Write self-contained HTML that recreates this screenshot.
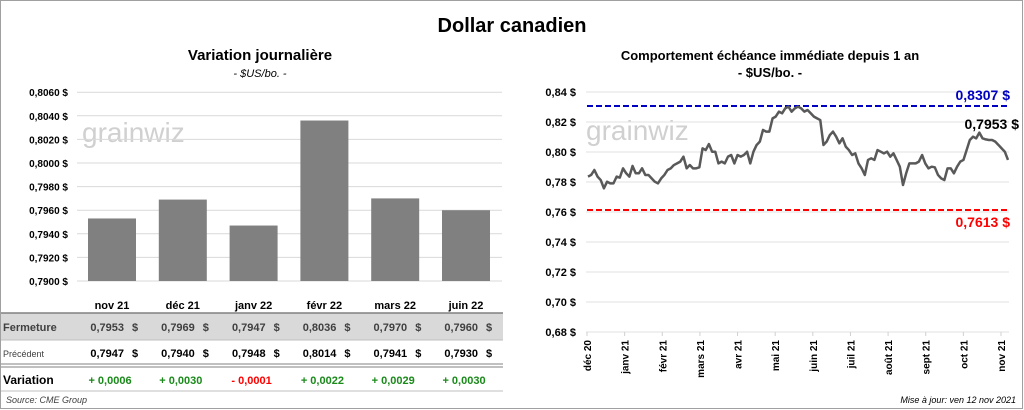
<!DOCTYPE html>
<html><head><meta charset="utf-8">
<style>
body{margin:0;width:1024px;height:410px;background:#fff;overflow:hidden;font-family:"Liberation Sans",sans-serif;}
svg{display:block}
</style></head>
<body>
<svg id="svg" width="1024" height="410" viewBox="0 0 1024 410" xmlns="http://www.w3.org/2000/svg" font-family="Liberation Sans, sans-serif">
<rect x="0.5" y="0.5" width="1022" height="408" fill="#fff" stroke="#a0a0a0"/>
<text x="512" y="32" text-anchor="middle" font-size="20" font-weight="bold" fill="#000">Dollar canadien</text>
<text x="260" y="60" text-anchor="middle" font-size="15" font-weight="bold">Variation  journalière</text>
<text x="260" y="77" text-anchor="middle" font-size="11" font-style="italic">- $US/bo. -</text>
<text x="770" y="60" text-anchor="middle" font-size="13" font-weight="bold">Comportement échéance immédiate depuis 1 an</text>
<text x="770" y="77" text-anchor="middle" font-size="13" font-weight="bold">- $US/bo. -</text>
<text x="82" y="142" font-size="28" fill="#d0d0d0">grainwiz</text>
<text x="586" y="140" font-size="28" fill="#d0d0d0">grainwiz</text>
<g id="bars"></g><g id="line"></g><g id="table"></g>
<text x="6" y="403" font-size="9" font-style="italic" fill="#404040">Source: CME Group</text>
<text x="1016" y="403" text-anchor="end" font-size="9" font-style="italic" fill="#000">Mise à jour: ven 12 nov 2021</text>
</svg>
<script>
const NS="http://www.w3.org/2000/svg";
const barCats=["nov 21","déc 21","janv 22","févr 22","mars 22","juin 22"];
const barVals=[0.7953,0.7969,0.7947,0.8036,0.7970,0.7960];
const barTicks=[0.7900,0.7920,0.7940,0.7960,0.7980,0.8000,0.8020,0.8040,0.8060];
const closeVals=["0,7953","0,7969","0,7947","0,8036","0,7970","0,7960"];
const prevVals=["0,7947","0,7940","0,7948","0,8014","0,7941","0,7930"];
const varVals=["+ 0,0006","+ 0,0030","- 0,0001","+ 0,0022","+ 0,0029","+ 0,0030"];
const lineVals=[0.7836,0.7847,0.7880,0.7836,0.7813,0.7758,0.7802,0.7791,0.7791,0.7836,0.7829,0.7891,0.7858,0.7836,0.7907,0.7858,0.7858,0.7891,0.7847,0.7847,0.7824,0.7802,0.7791,0.7824,0.7847,0.7880,0.7891,0.7913,0.7924,0.7936,0.7969,0.7891,0.7913,0.7891,0.7891,0.7898,0.8024,0.8013,0.8053,0.8002,0.8002,0.7924,0.7936,0.7924,0.7969,0.7980,0.7924,0.7980,0.7969,0.7980,0.8002,0.7924,0.8002,0.8047,0.8069,0.8147,0.8136,0.8136,0.8224,0.8236,0.8269,0.8258,0.8291,0.8302,0.8269,0.8291,0.8302,0.8291,0.8269,0.8280,0.8258,0.8236,0.8224,0.8213,0.8047,0.8069,0.8113,0.8136,0.8102,0.8058,0.8091,0.8036,0.8013,0.7980,0.7991,0.7924,0.7891,0.7847,0.7947,0.7958,0.7947,0.8013,0.8002,0.7991,0.8002,0.7969,0.7991,0.7947,0.7902,0.7780,0.7858,0.7924,0.7924,0.7924,0.7936,0.7980,0.7924,0.7891,0.7902,0.7898,0.7847,0.7824,0.7813,0.7891,0.7891,0.7858,0.7902,0.7936,0.7947,0.8013,0.8080,0.8102,0.8091,0.8129,0.8091,0.8084,0.8080,0.8080,0.8069,0.8047,0.8024,0.8002,0.7947];
const lineTicks=[0.68,0.70,0.72,0.74,0.76,0.78,0.80,0.82,0.84];
const months=["déc 20","janv 21","févr 21","mars 21","avr 21","mai 21","juin 21","juil 21","août 21","sept 21","oct 21","nov 21"];
const maxVal=0.8307, minVal=0.7613, lastVal="0,7953 $";

function mk(tag,attrs,parent,text){const e=document.createElementNS(NS,tag);for(const k in attrs)e.setAttribute(k,attrs[k]);if(text!==undefined)e.textContent=text;parent.appendChild(e);return e;}
const fmt=(v,d)=>v.toFixed(d).replace('.',',');

// bar chart
const bg=document.getElementById('bars');
const by=v=>281-(v-0.79)/0.002*23.6;
const bx=i=>112+i*70.8;
barTicks.forEach(t=>{
 const l=mk('line',{x1:77,x2:502,y1:by(t),y2:by(t),stroke:'#d9d9d9','stroke-width':1},bg);
 
 const tx=mk('text',{x:68,y:by(t)+4,'text-anchor':'end','font-size':10,'font-weight':'bold'},bg,fmt(t,4)+' $');
 
});
barVals.forEach((v,i)=>{
 const r=mk('rect',{x:bx(i)-24,y:by(v),width:48,height:by(0.79)-by(v),fill:'#808080'},bg);
 
});

// table
const tg=document.getElementById('table');
mk('rect',{x:1,y:313,width:502,height:27,fill:'#d9d9d9'},tg);
mk('line',{x1:1,x2:503,y1:313,y2:313,stroke:'#808080','stroke-width':1.5},tg);
mk('line',{x1:1,x2:503,y1:340,y2:340,stroke:'#bfbfbf'},tg);
mk('line',{x1:1,x2:503,y1:364,y2:364,stroke:'#808080'},tg);
mk('line',{x1:1,x2:503,y1:367,y2:367,stroke:'#808080'},tg);
mk('line',{x1:1,x2:503,y1:391,y2:391,stroke:'#bfbfbf'},tg);
const rl1=mk('text',{x:3,y:331,'font-size':11,'font-weight':'bold',fill:'#404040'},tg,'Fermeture');

const rl2=mk('text',{x:3,y:357,'font-size':9,fill:'#404040'},tg,'Précédent');

const rl3=mk('text',{x:3,y:384,'font-size':12,'font-weight':'bold'},tg,'Variation');

barCats.forEach((c,i)=>{
 const x=bx(i);
 const h=mk('text',{x:x,y:309,'text-anchor':'middle','font-size':11,'font-weight':'bold'},tg,c);
 
 const a=mk('text',{x:x+12,y:331,'text-anchor':'end','font-size':11,'font-weight':'bold',fill:'#404040'},tg,closeVals[i]);
 
 mk('text',{x:x+20,y:331,'font-size':11,'font-weight':'bold',fill:'#404040'},tg,'$');
 const b=mk('text',{x:x+12,y:357,'text-anchor':'end','font-size':11,'font-weight':'bold'},tg,prevVals[i]);
 
 mk('text',{x:x+20,y:357,'font-size':11,'font-weight':'bold'},tg,'$');
 const d=mk('text',{x:x-2,y:384,'text-anchor':'middle','font-size':11,'font-weight':'bold',fill:varVals[i][0]=='-'?'#ff0000':'#1a8a1a'},tg,varVals[i]);
 
});

// line chart
const lg=document.getElementById('line');
const X0=588,X1=1008;
const ly=v=>332-(v-0.68)/0.02*30;
const lx=i=>X0+i*(X1-X0)/(lineVals.length-1);
const mx=i=>587+i*(1001-587)/(months.length-1);
lineTicks.forEach(t=>{
 const l=mk('line',{x1:586,x2:1009,y1:ly(t),y2:ly(t),stroke:'#e0e0e0'},lg);
 
 const tx=mk('text',{x:576,y:ly(t)+4,'text-anchor':'end','font-size':11,'font-weight':'bold'},lg,fmt(t,2)+' $');
 
});
months.forEach((m,i)=>{
 mk('line',{x1:mx(i),x2:mx(i),y1:332,y2:336,stroke:'#d0d0d0'},lg);
 const t=mk('text',{transform:`translate(${mx(i)+4},340) rotate(-90)`,'text-anchor':'end','font-size':10,'font-weight':'bold'},lg,m);
 
});
const hi=mk('line',{x1:587,x2:1008,y1:ly(maxVal),y2:ly(maxVal),stroke:'#0000c0','stroke-width':2,'stroke-dasharray':'6,3'},lg);

const lo=mk('line',{x1:587,x2:1008,y1:ly(minVal),y2:ly(minVal),stroke:'#ff0000','stroke-width':2,'stroke-dasharray':'6,3'},lg);

const ht=mk('text',{x:1010,y:ly(maxVal)-6,'text-anchor':'end','font-size':14,'font-weight':'bold',fill:'#0000c0'},lg,fmt(maxVal,4)+' $');

const lt=mk('text',{x:1010,y:ly(minVal)+17,'text-anchor':'end','font-size':14,'font-weight':'bold',fill:'#ff0000'},lg,fmt(minVal,4)+' $');

const ct=mk('text',{x:1019,y:129,'text-anchor':'end','font-size':14,'font-weight':'bold',fill:'#000'},lg,lastVal);

const p=mk('polyline',{points:lineVals.map((v,i)=>lx(i)+','+ly(v)).join(' '),fill:'none',stroke:'#595959','stroke-width':2.5,'stroke-linejoin':'round'},lg);

</script>
</body></html>
